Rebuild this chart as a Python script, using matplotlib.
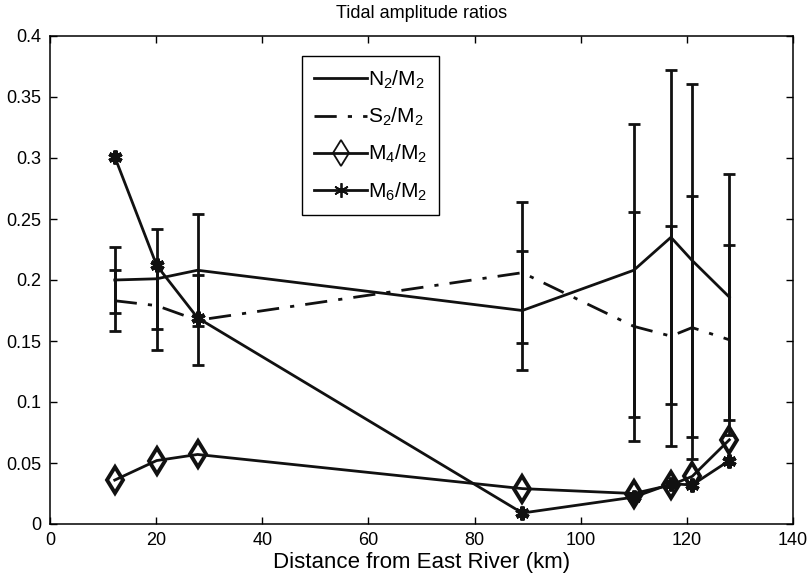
import numpy as np
import matplotlib.pyplot as plt

plt.rcParams['font.family'] = ['Liberation Sans', 'DejaVu Sans']
plt.rcParams['mathtext.fontset'] = 'custom'
plt.rcParams['mathtext.rm'] = 'Liberation Sans'
plt.rcParams['mathtext.it'] = 'Liberation Sans'

# distance from East River (km)
dist = np.array([12.2, 20.1, 27.8, 89.0, 110.0, 117.0, 121.0, 128.0])

# amplitude ratios
n2 = np.array([0.200, 0.201, 0.208, 0.175, 0.208, 0.235, 0.216, 0.186])
n2_err = np.array([0.027, 0.041, 0.046, 0.049, 0.120, 0.137, 0.145, 0.101])
s2 = np.array([0.183, 0.179, 0.167, 0.206, 0.162, 0.154, 0.161, 0.151])
s2_err = np.array([0.025, 0.036, 0.037, 0.058, 0.094, 0.090, 0.108, 0.078])
m4 = np.array([0.036, 0.052, 0.057, 0.029, 0.025, 0.032, 0.039, 0.069])
m6 = np.array([0.301, 0.212, 0.169, 0.009, 0.022, 0.033, 0.032, 0.052])

labels = [r'N$_2$/M$_2$', r'S$_2$/M$_2$', r'M$_4$/M$_2$', r'M$_6$/M$_2$']

fig = plt.figure(figsize=(8.12, 5.77), dpi=100)
ax = fig.add_axes([50/812, 1-524/577, 743/812, 488/577])

lw = 2.0
# error bars (no legend entry)
ax.errorbar(dist, n2, yerr=n2_err, fmt='none', ecolor='#111111', elinewidth=lw,
            capsize=4.5, capthick=lw)
ax.errorbar(dist, s2, yerr=s2_err, fmt='none', ecolor='#111111', elinewidth=lw,
            capsize=4.5, capthick=lw)

ax.plot(dist, n2, '-', color='#111111', lw=lw, label=labels[0])
ax.plot(dist, s2, '-.', color='#111111', lw=lw, dashes=(8, 4, 1.5, 4), label=labels[1])
ax.plot(dist, m4, '-', color='#111111', lw=lw, marker='d', markersize=13,
        markerfacecolor='none', markeredgewidth=2.8, label=labels[2])
ax.plot(dist, m6, '-', color='#111111', lw=lw, marker=(6, 2, 0), markersize=10,
        markeredgewidth=3.0, label=labels[3])

ax.set_xlim(0, 140)
ax.set_ylim(0, 0.4)
ax.set_xticks(np.arange(0, 141, 20))
ax.set_yticks(np.arange(0, 0.401, 0.05))
ax.set_yticklabels(['0', '0.05', '0.1', '0.15', '0.2', '0.25', '0.3', '0.35', '0.4'])
ax.tick_params(direction='in', top=True, right=True, length=5, width=1, labelsize=13)
ax.tick_params(axis='x', pad=6)
ax.tick_params(axis='y', pad=6)
for s in ax.spines.values():
    s.set_linewidth(1.1)

ax.set_title('Tidal amplitude ratios', fontsize=13, pad=13)
ax.set_xlabel('Distance from East River (km)', fontsize=16, labelpad=2)

leg = ax.legend(loc='upper left', bbox_to_anchor=(302/812, 1-56/577),
                bbox_transform=fig.transFigure, borderaxespad=0, fontsize=15,
                handlelength=2.5, labelspacing=0.72, handletextpad=0.05,
                borderpad=0.6, fancybox=False, framealpha=1, edgecolor='black')
leg.get_frame().set_linewidth(1.0)
for h in leg.legend_handles:
    h.set_markersize(h.get_markersize() * 1.05)
    h.set_markeredgewidth(1.3)

fig.savefig('out.png', dpi=100)
